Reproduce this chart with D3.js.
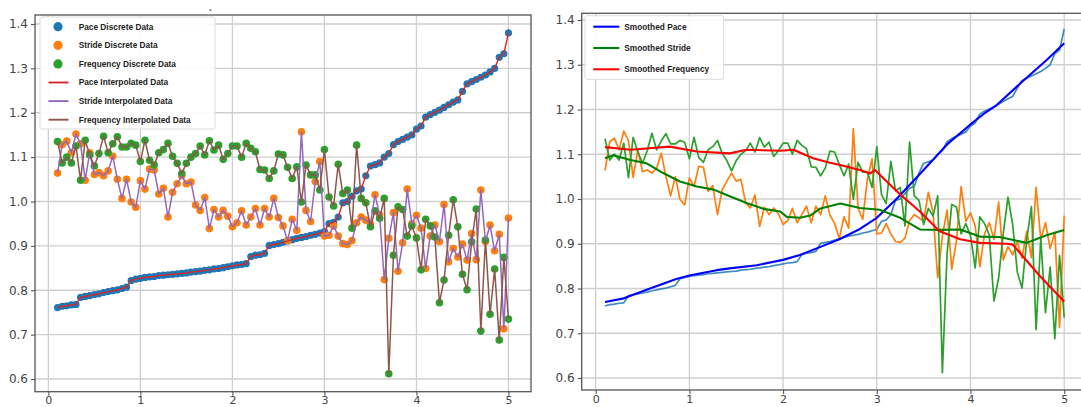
<!DOCTYPE html>
<html><head><meta charset="utf-8">
<script src="https://cdn.jsdelivr.net/npm/d3@7"></script>
<style>
html,body{margin:0;padding:0;background:#fff;}
svg{display:block;}
</style></head>
<body>
<svg id="chart" width="1081" height="407"></svg>
<script>
// ---- data ----
const xValues = [0.1,0.15,0.2,0.25,0.3,0.35,0.4,0.45,0.5,0.55,0.6,0.65,0.7,0.75,0.8,0.85,0.9,0.95,1.0,1.05,
 1.1,1.15,1.2,1.25,1.3,1.35,1.4,1.45,1.5,1.55,1.6,1.65,1.7,1.75,1.8,1.85,1.9,1.95,2.0,2.05,
 2.1,2.15,2.2,2.25,2.3,2.35,2.4,2.45,2.5,2.55,2.6,2.65,2.7,2.75,2.8,2.85,2.9,2.95,3.0,3.05,
 3.1,3.15,3.2,3.25,3.3,3.35,3.4,3.45,3.5,3.55,3.6,3.65,3.7,3.75,3.8,3.85,3.9,3.95,4.0,4.05,
 4.1,4.15,4.2,4.25,4.3,4.35,4.4,4.45,4.5,4.55,4.6,4.65,4.7,4.75,4.8,4.85,4.9,4.95,5.0];

const paceValues = [0.761,0.764,0.765,0.767,0.768,0.784,0.786,0.788,0.790,0.792,0.795,0.797,0.799,0.801,0.804,0.807,0.822,0.825,0.827,0.829,
 0.830,0.831,0.833,0.834,0.835,0.836,0.837,0.838,0.839,0.841,0.842,0.843,0.845,0.846,0.848,0.849,0.851,0.853,0.855,0.857,
 0.858,0.860,0.876,0.879,0.880,0.883,0.901,0.903,0.905,0.908,0.911,0.914,0.917,0.919,0.921,0.924,0.926,0.929,0.932,0.950,
 0.953,0.965,0.997,1.000,1.012,1.024,1.028,1.058,1.080,1.083,1.087,1.100,1.108,1.128,1.135,1.140,1.145,1.150,1.163,1.170,
 1.190,1.196,1.201,1.206,1.212,1.218,1.224,1.229,1.248,1.265,1.270,1.275,1.280,1.285,1.292,1.300,1.325,1.333,1.380];

const strideValues = [1.064,1.128,1.136,1.110,1.152,1.130,1.048,1.110,1.061,1.065,1.058,1.069,1.102,1.050,1.007,1.050,0.999,0.987,1.047,1.028,
 1.073,1.071,1.017,1.030,0.965,1.021,1.040,1.058,1.040,1.044,0.992,0.980,1.009,0.939,0.982,0.965,0.980,0.967,0.943,0.952,
 0.979,0.947,0.965,0.984,0.947,0.984,0.965,1.007,0.964,0.945,0.912,0.960,0.935,1.157,0.980,0.955,1.045,1.090,0.922,0.924,
 0.945,0.922,0.905,0.903,0.912,0.952,0.965,0.958,0.950,1.015,0.970,0.824,0.917,0.975,0.843,0.907,1.028,0.950,0.969,0.940,
 0.849,0.922,0.947,0.910,0.993,0.864,0.894,0.875,0.904,0.868,0.928,0.869,1.026,0.910,0.947,0.889,0.926,0.713,0.963];

const frequencyValues = [1.135,1.087,1.100,1.087,1.125,1.048,1.138,1.105,1.080,1.108,1.147,1.110,1.130,1.146,1.123,1.123,1.131,1.127,1.090,1.138,
 1.093,1.082,1.110,1.117,1.131,1.102,1.086,1.063,1.086,1.100,1.108,1.125,1.105,1.137,1.116,1.127,1.095,1.108,1.125,1.125,
 1.100,1.131,1.120,1.112,1.072,1.071,1.052,1.069,1.107,1.105,1.077,1.052,1.078,0.999,1.082,1.060,1.060,1.026,1.117,1.010,
 0.990,1.084,1.018,1.026,0.940,1.127,1.007,0.997,0.943,0.979,0.962,1.007,0.612,0.879,0.988,0.982,0.922,0.945,0.918,0.846,
 0.960,0.945,0.920,0.772,0.823,0.924,1.004,0.943,0.836,0.801,0.909,0.983,0.708,0.913,0.746,0.848,0.688,0.874,0.735];

const smoothPaceX = [0.1,0.3,0.58,0.86,1.0,1.29,1.43,1.72,2.0,2.18,2.4,2.6,2.82,3.0,3.21,3.46,3.75,3.99,4.14,4.28,4.53,4.81,5.0];
const smoothPace  = [0.770,0.778,0.800,0.821,0.829,0.841,0.845,0.852,0.864,0.875,0.893,0.910,0.933,0.958,1.000,1.056,1.122,1.165,1.190,1.210,1.258,1.310,1.348];

const smoothStrideX = [0.1,0.19,0.37,0.54,0.72,0.9,1.08,1.26,1.43,1.61,1.79,1.97,2.04,2.18,2.29,2.39,2.61,2.82,3.03,3.25,3.46,3.67,3.89,4.1,4.31,4.6,4.81,5.0];
const smoothStride  = [1.091,1.098,1.087,1.080,1.058,1.039,1.028,1.021,1.006,0.991,0.978,0.972,0.960,0.958,0.963,0.978,0.990,0.980,0.976,0.958,0.932,0.931,0.932,0.916,0.915,0.902,0.919,0.931];

const smoothFreqX = [0.1,0.37,0.79,1.08,1.43,1.61,1.97,2.11,2.32,2.5,2.61,2.82,2.93,2.98,3.25,3.46,3.67,3.89,4.1,4.39,4.45,4.6,4.74,5.0];
const smoothFreq  = [1.116,1.110,1.117,1.106,1.102,1.110,1.108,1.110,1.091,1.081,1.076,1.065,1.057,1.065,1.010,0.972,0.928,0.910,0.902,0.900,0.898,0.862,0.828,0.771];

const yTickValues = [0.6,0.7,0.8,0.9,1.0,1.1,1.2,1.3,1.4];
const xTickValues = [0,1,2,3,4,5];

const leftLegend = ["Pace Discrete Data","Stride Discrete Data","Frequency Discrete Data",
                    "Pace Interpolated Data","Stride Interpolated Data","Frequency Interpolated Data"];
const rightLegend = ["Smoothed Pace","Smoothed Stride","Smoothed Frequency"];

// ---- drawing ----
const svg = d3.select("#chart");
const C = {blue:"#1f77b4", orange:"#ff7f0e", green:"#2ca02c", red:"#d62728", purple:"#9467bd", brown:"#8c564b"};

function panel(box, xDom, yDom){
  const x = d3.scaleLinear().domain(xDom).range([box.l, box.r]);
  const y = d3.scaleLinear().domain(yDom).range([box.b, box.t]);
  const g = svg.append("g");
  const clipId = "clip" + Math.round(box.l);
  svg.append("clipPath").attr("id", clipId).append("rect")
     .attr("x", box.l).attr("y", box.t).attr("width", box.r - box.l).attr("height", box.b - box.t);
  // grid
  g.append("g").selectAll("line").data(yTickValues).join("line")
    .attr("x1", box.l).attr("x2", box.r).attr("y1", d=>y(d)).attr("y2", d=>y(d))
    .attr("stroke", "#cfcfcf").attr("stroke-width", 1.3);
  g.append("g").selectAll("line").data(xTickValues).join("line")
    .attr("y1", box.t).attr("y2", box.b).attr("x1", d=>x(d)).attr("x2", d=>x(d))
    .attr("stroke", "#cfcfcf").attr("stroke-width", 1.3);
  // axes
  const ya = d3.axisLeft(y).tickValues(yTickValues).tickFormat(d3.format(".1f")).tickSize(4).tickPadding(3);
  const xa = d3.axisBottom(x).tickValues(xTickValues).tickFormat(d3.format("d")).tickSize(4).tickPadding(1);
  const gy = g.append("g").attr("transform", `translate(${box.l},0)`).call(ya);
  const gx = g.append("g").attr("transform", `translate(0,${box.b})`).call(xa);
  [gy, gx].forEach(a=>{
    a.select(".domain").remove();
    a.selectAll(".tick line").attr("stroke", "#555").attr("stroke-width", 1.1);
    a.selectAll(".tick text").attr("fill", "#444").style("font-family", "DejaVu Sans, sans-serif").style("font-size", "12px");
  });
  gx.selectAll(".tick text").style("font-size", "11px");
  const plot = svg.append("g").attr("clip-path", `url(#${clipId})`);
  return {x, y, g, plot, box};
}

function frame(p){
  const b = p.box;
  svg.append("rect").attr("x", b.l).attr("y", b.t).attr("width", b.r - b.l).attr("height", b.b - b.t)
    .attr("fill", "none").attr("stroke", "#555").attr("stroke-width", 1.3);
}

// Left panel
const L = panel({l:35, r:531, t:15, b:391.7}, [-0.145, 5.245], [0.5714, 1.4203]);
function dots(p, vals, color, r){
  p.plot.append("g").selectAll("circle").data(vals).join("circle")
    .attr("cx", (d,i)=>p.x(xValues[i])).attr("cy", d=>p.y(d)).attr("r", r).attr("fill", color);
}
function line(p, xs, vals, color, w, op){
  const gen = d3.line().x((d,i)=>p.x(xs[i])).y(d=>p.y(d));
  p.plot.append("path").datum(vals).attr("d", gen).attr("fill", "none")
    .attr("stroke", color).attr("stroke-width", w).attr("stroke-opacity", op||1)
    .attr("stroke-linejoin", "round");
}
dots(L, paceValues, C.blue, 3.6);
dots(L, strideValues, C.orange, 3.8);
dots(L, frequencyValues, C.green, 3.8);
line(L, xValues, paceValues, C.red, 1.4);
line(L, xValues, strideValues, C.purple, 1.5);
line(L, xValues, frequencyValues, C.brown, 1.5);
frame(L);

// Right panel
const R = panel({l:581.7, r:1086.7, t:13.3, b:390}, [-0.149, 5.24], [0.5732, 1.415]);
line(R, xValues, paceValues, C.blue, 1.7, 0.85);
line(R, xValues, strideValues, C.orange, 1.7);
line(R, xValues, frequencyValues, C.green, 1.7);
line(R, smoothPaceX, smoothPace, "#0000ff", 2.1);
line(R, smoothStrideX, smoothStride, "#008000", 2.1);
line(R, smoothFreqX, smoothFreq, "#ff0000", 2.1);
frame(R);

// Left legend
const lg = svg.append("g");
lg.append("rect").attr("x", 40).attr("y", 17).attr("width", 175).attr("height", 112).attr("rx", 2)
  .attr("fill", "#fff").attr("fill-opacity", 0.9).attr("stroke", "#dddddd");
const lColors = [C.blue, C.orange, C.green, C.red, C.purple, C.brown];
leftLegend.forEach((t,k)=>{
  const yy = 26.7 + 18.6*k;
  if (k < 3) lg.append("circle").attr("cx", 58).attr("cy", yy).attr("r", 4.6).attr("fill", lColors[k]);
  else lg.append("line").attr("x1", 48.5).attr("x2", 68.5).attr("y1", yy).attr("y2", yy)
        .attr("stroke", lColors[k]).attr("stroke-width", 1.9);
  lg.append("text").attr("x", 78.7).attr("y", yy).attr("dy", "0.35em").text(t)
    .style("font-family", "Liberation Sans, Arial, sans-serif").style("font-weight", "bold")
    .style("font-size", "8.3px").attr("fill", "#222");
});

// Right legend
const rg = svg.append("g");
rg.append("rect").attr("x", 585).attr("y", 15.7).attr("width", 138.5).attr("height", 63.6).attr("rx", 2)
  .attr("fill", "#fff").attr("fill-opacity", 0.9).attr("stroke", "#dddddd");
const rColors = ["#0000ff", "#008000", "#ff0000"];
rightLegend.forEach((t,k)=>{
  const yy = 26.7 + 21.3*k;
  rg.append("line").attr("x1", 593.3).attr("x2", 619.3).attr("y1", yy).attr("y2", yy)
    .attr("stroke", rColors[k]).attr("stroke-width", 2.1);
  rg.append("text").attr("x", 624.3).attr("y", yy).attr("dy", "0.35em").text(t)
    .style("font-family", "Liberation Sans, Arial, sans-serif").style("font-weight", "bold")
    .style("font-size", "8.3px").attr("fill", "#222");
});

// small stray mark above left panel
svg.append("rect").attr("x", 209.5).attr("y", 9.5).attr("width", 2).attr("height", 1.2).attr("fill", "#444");
</script>
</body></html>
